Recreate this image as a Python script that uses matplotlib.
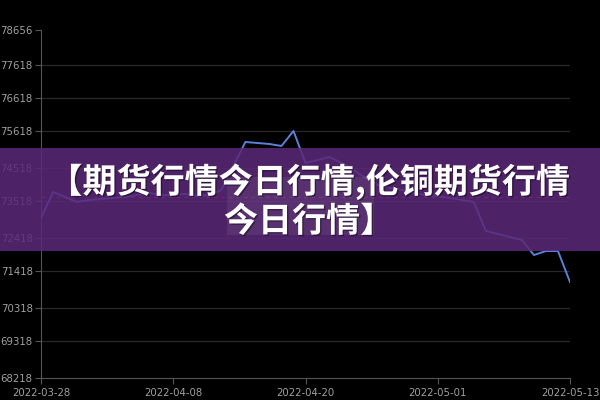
import numpy as np
import matplotlib.pyplot as plt
from matplotlib.patches import Rectangle
import matplotlib.patheffects as pe

plt.rcParams['font.family'] = ['Noto Sans CJK SC', 'DejaVu Sans']

# dates (category axis, 45 trading days)
dates = ['2022-03-28', '2022-03-29', '2022-03-30', '2022-03-31', '2022-04-01',
         '2022-04-02', '2022-04-03', '2022-04-04', '2022-04-05', '2022-04-06',
         '2022-04-07', '2022-04-08', '2022-04-09', '2022-04-10', '2022-04-11',
         '2022-04-12', '2022-04-13', '2022-04-14', '2022-04-15', '2022-04-17',
         '2022-04-18', '2022-04-19', '2022-04-20', '2022-04-21', '2022-04-22',
         '2022-04-23', '2022-04-24', '2022-04-25', '2022-04-26', '2022-04-27',
         '2022-04-28', '2022-04-29', '2022-04-30', '2022-05-01', '2022-05-02',
         '2022-05-03', '2022-05-04', '2022-05-05', '2022-05-06', '2022-05-08',
         '2022-05-09', '2022-05-10', '2022-05-11', '2022-05-12', '2022-05-13']
prices = [73012, 73793, 73643, 73493, 73553, 73583, 73613, 73643, 73703, 73763,
          73703, 73703, 73733, 73673, 73703, 73853, 74573, 75294, 75264, 75234,
          75174, 75624, 74663, 74753, 74843, 74663, 74453, 74213, 74003, 73913,
          73853, 73763, 73703, 73673, 73613, 73553, 73493, 72622, 72532, 72442,
          72352, 71901, 72021, 72021, 71090]
avg_price = 73640
y_ticks = [68218, 69318, 70318, 71418, 72418, 73518, 74518, 75618, 76618, 77618, 78656]
x_label_idx = [0, 11, 22, 33, 44]
title = '【期货行情今日行情,伦铜期货行情\n今日行情】'

fig = plt.figure(figsize=(6, 4), dpi=100, facecolor='black')
ax = fig.add_axes([41/600, 22.3/400, 529/600, 347.7/400])
ax.set_facecolor('black')

x = np.arange(len(prices))
ax.plot(x, prices, color='#5b80d8', linewidth=1.4, zorder=3)
ax.axhline(avg_price, color='#c0305a', linestyle=(0, (3, 3)), linewidth=0.9, zorder=2)

ax.set_xlim(0, len(prices) - 1)
ax.set_ylim(y_ticks[0], y_ticks[-1])
ax.set_yticks(y_ticks)
ax.set_yticklabels([str(v) for v in y_ticks], family='DejaVu Sans')
ax.set_xticks(x_label_idx)
ax.set_xticklabels([dates[i] for i in x_label_idx], family='DejaVu Sans')
ax.tick_params(colors='#555555', labelcolor='#a0a0a0', labelsize=7.3, length=4, width=0.8)
ax.tick_params(axis='y', pad=2)
for v in y_ticks[1:-1]:
    ax.axhline(v, color='#282828', linewidth=0.9, zorder=1)
for s in ['top', 'right']:
    ax.spines[s].set_visible(False)
for s in ['left', 'bottom']:
    ax.spines[s].set_color('#555555')
    ax.spines[s].set_linewidth(0.8)

# purple banner
fig.patches.append(Rectangle((0, (400-251)/400), 1, 103/400, transform=fig.transFigure,
                             facecolor='#5a2878', alpha=0.86, zorder=5))
fig.patches.append(Rectangle((227/600, (400-235)/400), 147/600, 58/400, transform=fig.transFigure,
                             facecolor='white', alpha=0.07, zorder=6))
fig.text(0.515, (400-201)/400, title, ha='center', va='center', color='white',
         fontsize=24.5, fontweight='bold', linespacing=1.12, zorder=7,
         path_effects=[pe.withSimplePatchShadow(offset=(1, -1), shadow_rgbFace='black', alpha=0.4)])

fig.savefig('out.png', dpi=100, facecolor='black')
